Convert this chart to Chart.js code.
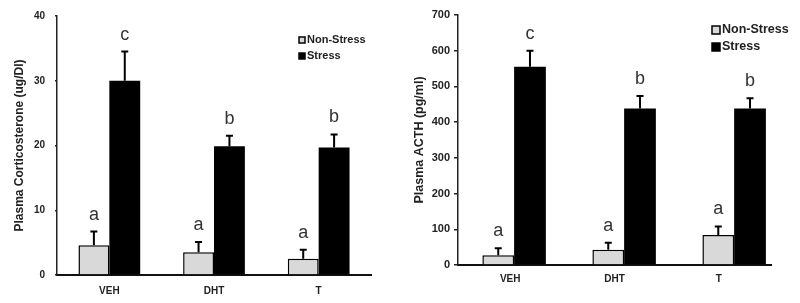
<!DOCTYPE html>
<html>
<head>
<meta charset="utf-8">
<script src="https://cdn.jsdelivr.net/npm/chart.js@4.4.0/dist/chart.umd.min.js"></script>
<style>
  html, body { margin: 0; padding: 0; background: #fff; }
  .wrap { display: flex; width: 800px; height: 303px; }
  .box { position: relative; width: 400px; height: 303px; }
</style>
</head>
<body>
<div class="wrap">
  <div class="box"><canvas id="cort"></canvas></div>
  <div class="box"><canvas id="acth"></canvas></div>
</div>
<script>
var groups = ['VEH', 'DHT', 'T'];
var seriesNames = ['Non-Stress', 'Stress'];

// corticosterone (ug/Dl)
var cortNonStress = [4.6, 3.5, 2.5];
var cortNonStressErr = [2.1, 1.6, 1.4];
var cortStress = [30, 19.9, 19.7];
var cortStressErr = [4.5, 1.6, 2.0];
var cortNonStressLetters = ['a', 'a', 'a'];
var cortStressLetters = ['c', 'b', 'b'];
var cortTicks = [0, 10, 20, 30, 40];

// ACTH (pg/ml)
var acthNonStress = [27, 43, 84];
var acthNonStressErr = [20, 19, 24];
var acthStress = [555, 438, 438];
var acthStressErr = [45, 35, 29];
var acthNonStressLetters = ['a', 'a', 'a'];
var acthStressLetters = ['c', 'b', 'b'];
var acthTicks = [0, 100, 200, 300, 400, 500, 600, 700];

var FONT = '"Liberation Sans", Arial, sans-serif';
var grey = '#d9d9d9';

var errorBars = {
  id: 'errorBars',
  afterDatasetsDraw: function (chart) {
    var ctx = chart.ctx;
    var y = chart.scales.y;
    ctx.save();
    chart.data.datasets.forEach(function (ds, i) {
      var meta = chart.getDatasetMeta(i);
      meta.data.forEach(function (bar, j) {
        var top = y.getPixelForValue(ds.data[j].y + ds.errors[j]);
        ctx.strokeStyle = '#000';
        ctx.lineWidth = 2;
        ctx.beginPath();
        ctx.moveTo(bar.x, bar.y);
        ctx.lineTo(bar.x, top);
        ctx.moveTo(bar.x - 3.5, top);
        ctx.lineTo(bar.x + 3.5, top);
        ctx.stroke();
        ctx.fillStyle = '#333';
        ctx.font = '18px ' + FONT;
        ctx.textAlign = 'center';
        ctx.textBaseline = 'alphabetic';
        ctx.fillText(ds.letters[j], bar.x, top - 12);
      });
    });
    ctx.restore();
  }
};

var boxLegend = {
  id: 'boxLegend',
  afterDraw: function (chart, args, opts) {
    var ctx = chart.ctx;
    ctx.save();
    ctx.font = 'bold ' + opts.size + 'px ' + FONT;
    ctx.textBaseline = 'middle';
    ctx.textAlign = 'left';
    chart.data.datasets.forEach(function (ds, i) {
      var cy = opts.y + i * opts.gap;
      ctx.fillStyle = ds.backgroundColor;
      ctx.strokeStyle = '#000';
      ctx.lineWidth = 1.5;
      ctx.fillRect(opts.x, cy - opts.box / 2, opts.box, opts.box);
      ctx.strokeRect(opts.x, cy - opts.box / 2, opts.box, opts.box);
      ctx.fillStyle = '#222';
      ctx.fillText(ds.label, opts.x + opts.box + 2, cy);
    });
    ctx.restore();
  }
};

function makeChart(id, s) {
  return new Chart(document.getElementById(id), {
    type: 'bar',
    data: {
      datasets: [{
        label: seriesNames[0],
        data: s.ns.map(function (v, i) { return { x: i, y: v }; }),
        errors: s.nsErr,
        letters: s.nsLetters,
        backgroundColor: grey,
        borderColor: '#000',
        borderWidth: 1.5,
        borderSkipped: 'bottom'
      }, {
        label: seriesNames[1],
        data: s.st.map(function (v, i) { return { x: i, y: v }; }),
        errors: s.stErr,
        letters: s.stLetters,
        backgroundColor: '#000',
        borderColor: '#000',
        borderWidth: 0
      }]
    },
    options: {
      responsive: false,
      animation: false,
      events: [],
      layout: { padding: { left: 12, right: s.padRight, top: s.padTop, bottom: 0 } },
      categoryPercentage: s.catPct,
      barPercentage: 1.0,
      plugins: {
        legend: { display: false },
        tooltip: { enabled: false },
        boxLegend: s.legend
      },
      scales: {
        x: {
          type: 'linear',
          display: false,
          offset: false,
          grid: { offset: false },
          min: s.xMin,
          max: s.xMax,
          afterBuildTicks: function (sc) {
            sc.ticks = groups.map(function (g, i) { return { value: i }; });
          }
        },
        xc: {
          type: 'category',
          position: 'bottom',
          labels: groups,
          offset: true,
          grid: { display: false },
          border: { display: true, color: '#111', width: 2 },
          ticks: { color: '#222', padding: s.xPad, font: { family: FONT, size: 10, weight: 'bold' } },
          afterFit: function (sc) { sc.height = s.xH; }
        },
        y: {
          min: 0,
          max: s.ticks[s.ticks.length - 1],
          afterBuildTicks: function (sc) { sc.ticks = s.ticks.map(function (v) { return { value: v }; }); },
          grid: { drawOnChartArea: false, drawTicks: true, tickLength: s.tickLen, color: '#222', lineWidth: 1.5 },
          border: { display: true, color: '#222', width: 1.5 },
          ticks: { color: '#222', padding: s.yPad, font: { family: FONT, size: s.tickSize, weight: 'bold' } },
          title: { display: true, text: s.title, color: '#222', padding: 0, font: { family: FONT, size: s.titleSize, weight: 'bold' } },
          afterFit: function (sc) { sc.width = s.yW; }
        }
      }
    },
    plugins: [errorBars, boxLegend]
  });
}

var c1 = document.getElementById('cort');
c1.width = 400; c1.height = 303;
var c2 = document.getElementById('acth');
c2.width = 400; c2.height = 303;

makeChart('cort', {
  ns: cortNonStress, nsErr: cortNonStressErr, nsLetters: cortNonStressLetters,
  st: cortStress, stErr: cortStressErr, stLetters: cortStressLetters,
  ticks: cortTicks, title: 'Plasma Corticosterone (ug/Dl)',
  xMin: -0.5, xMax: 2.5, catPct: 0.59,
  padRight: 29, padTop: 16, xH: 28, xPad: 2, yW: 45, yPad: 10, tickLen: 2,
  tickSize: 10, titleSize: 12,
  legend: { x: 299, y: 40, gap: 16, box: 6, size: 11 }
});

makeChart('acth', {
  ns: acthNonStress, nsErr: acthNonStressErr, nsLetters: acthNonStressLetters,
  st: acthStress, stErr: acthStressErr, stLetters: acthStressLetters,
  ticks: acthTicks, title: 'Plasma ACTH (pg/ml)',
  xMin: -0.51, xMax: 2.335, catPct: 0.577,
  padRight: 29, padTop: 15, xH: 38, xPad: 0, yW: 46, yPad: 4, tickLen: 4,
  tickSize: 11, titleSize: 12.5,
  legend: { x: 312, y: 30, gap: 17, box: 8, size: 12.5 }
});
</script>
</body>
</html>
